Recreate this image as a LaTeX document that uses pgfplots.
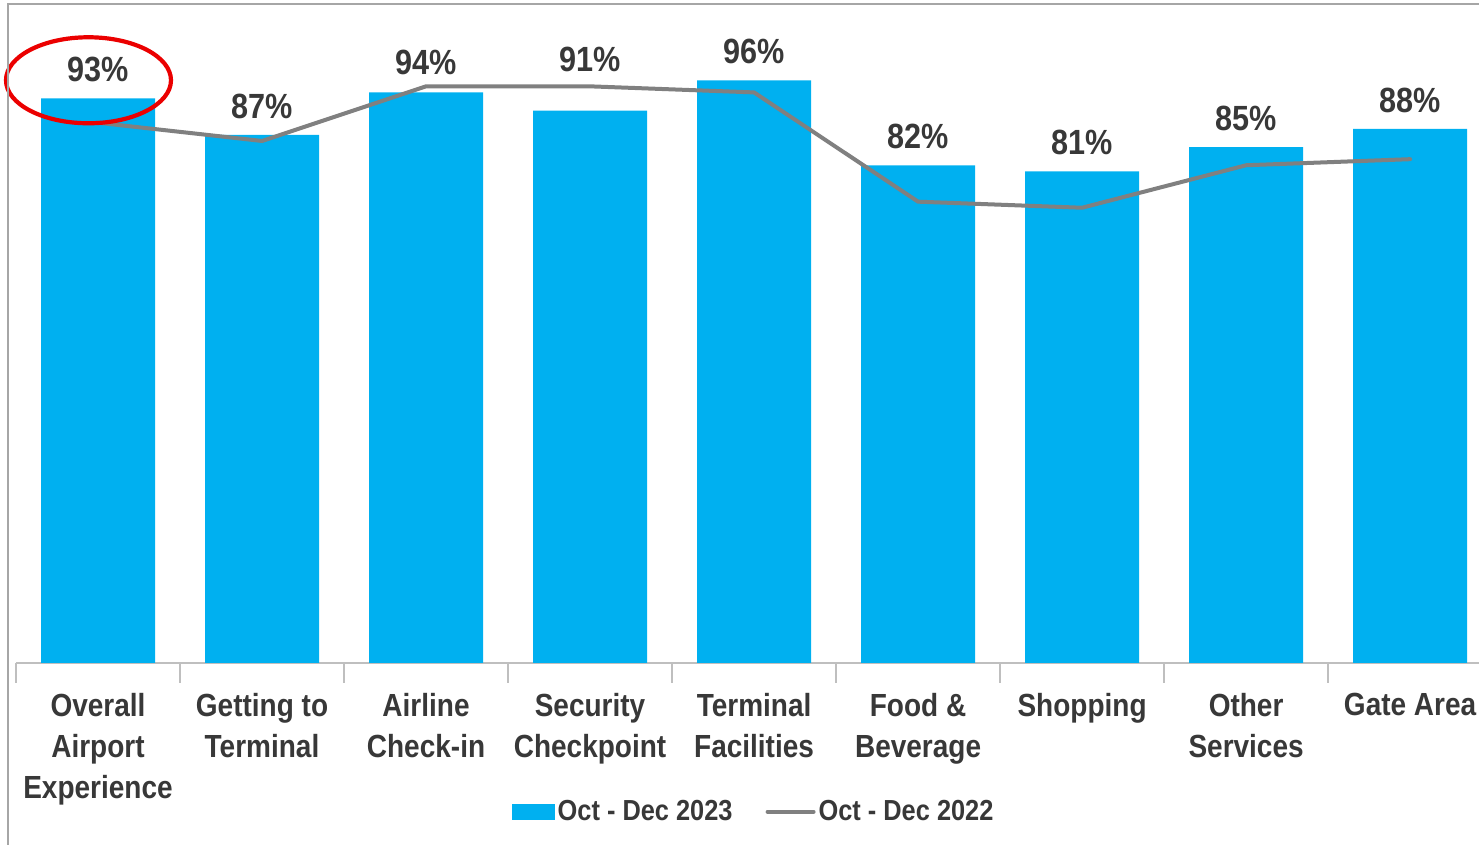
\documentclass[border=0pt]{standalone}
\usepackage{pgfplots}
\pgfplotsset{compat=1.18}
\usepackage{fontspec}
\setmainfont{Liberation Sans}[FakeStretch=0.875]
\definecolor{barblue}{HTML}{00B0F0}
\definecolor{linegray}{HTML}{808080}
\definecolor{txt}{HTML}{383838}
\definecolor{axgray}{HTML}{BFBFBF}
\begin{document}
\begin{tikzpicture}
\begin{axis}[
  at={(0,0)}, anchor=south west,
  scale only axis,
  width=731.5pt, height=303.5pt,
  xmin=-0.5, xmax=8.42,
  ymin=0, ymax=100,
  clip=false,
  axis x line*=bottom,
  hide y axis,
  x axis line style={draw=axgray, line width=0.8pt},
  xtick={0,...,8},
  xticklabels={{Overall\\Airport\\Experience},{Getting to\\Terminal},{Airline\\Check-in},{Security\\Checkpoint},{Terminal\\Facilities},{Food \&\\Beverage},{Shopping},{Other\\Services},{Gate Area}},
  major tick length=0pt,
  xticklabel style={align=center, anchor=north, inner sep=0pt, yshift=-15pt, text=txt,
     font=\fontsize{16}{20.5}\selectfont\bfseries},
  extra x ticks={-0.5,0.5,...,8.5},
  extra x tick labels={},
  extra x tick style={major tick length=10pt, tick align=outside, tick style={draw=axgray, line width=0.8pt}},
  /pgf/number format/assume math mode=true,
  legend style={at={(0.5045,-0.245)}, anchor=center, draw=none, fill=none,
     legend columns=2, font=\fontsize{14.5}{17}\selectfont\bfseries, text=txt,
     /tikz/every even column/.append style={column sep=15pt},
     nodes={inner sep=1.5pt}},
]
\addplot[ybar, bar width=0.695, fill=barblue, draw=none,
  visualization depends on={\thisrow{off} \as \off},
  nodes near coords={\pgfmathprintnumber{\pgfplotspointmeta}\%},
  every node near coord/.append style={font=\fontsize{17.5}{20}\selectfont\bfseries, text=txt, inner sep=0pt, anchor=south, yshift=\off pt},
  legend image code/.code={\fill[barblue] (0pt,-4pt) rectangle (21.5pt,4pt);}]
  table[x=x, y=y] {
x y off
0 93 8
1 87 8
2 94 8.5
3 91 19
4 96 8
5 82 8
6 81 8
7 85 8
8 88 8
};
\addlegendentry{Oct - Dec 2023}
\addplot[color=linegray, line width=2pt, line cap=round, line join=round, mark=none,
  legend image code/.code={\draw[linegray, line width=2pt, line cap=round] (0pt,0pt) -- (23pt,0pt);}]
  coordinates {(0,89) (1,86) (2,95) (3,95) (4,94) (5,76) (6,75) (7,82) (8,83)};
\addlegendentry{Oct - Dec 2022}
\draw[color=red!92!black, line width=2.1pt] (axis cs:-0.058,96) ellipse [x radius=41.25pt, y radius=21.5pt];
\end{axis}
\draw[color=gray!70, line width=1pt] (-4pt,-91pt) -- (-4pt,329.5pt) -- (731.5pt,329.5pt);
\pgfresetboundingbox
\useasboundingbox (-8pt,-91pt) rectangle (731.5pt,331.5pt);
\end{tikzpicture}
\end{document}
